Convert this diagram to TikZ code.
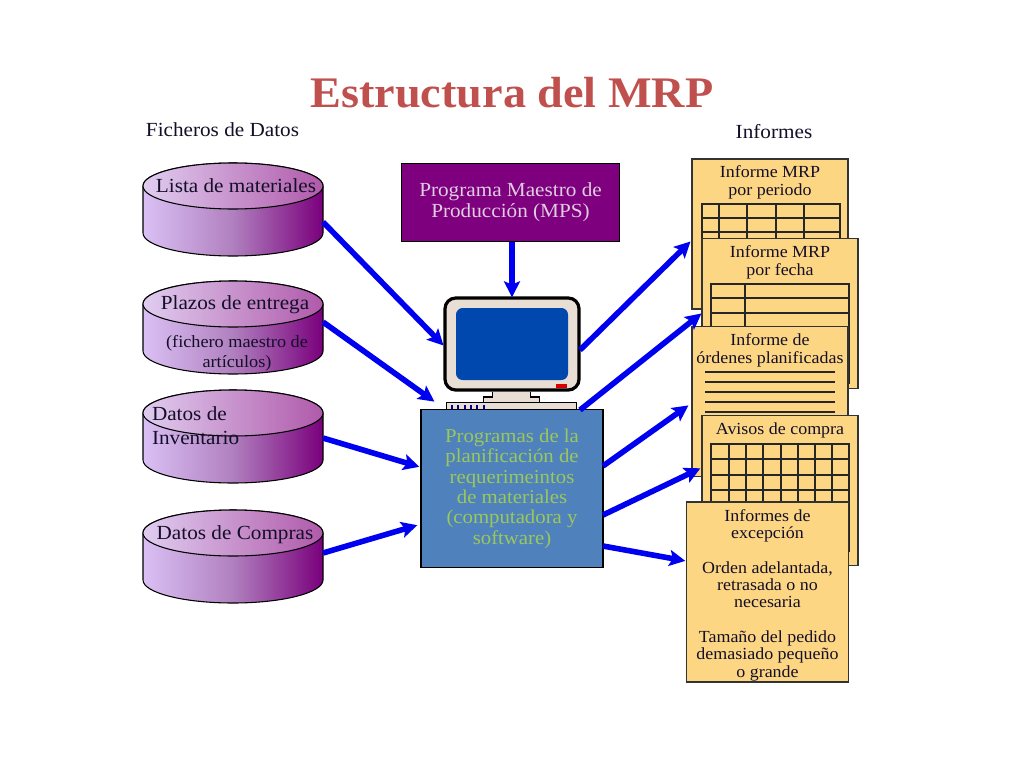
\documentclass[tikz,border=0pt]{standalone}
\usepackage{fontspec}
\setmainfont[FakeStretch=1.06]{Liberation Serif}
\usetikzlibrary{arrows.meta,calc}
\definecolor{repfill}{RGB}{253,214,131}
\definecolor{arrowblue}{RGB}{0,0,240}
\definecolor{cylL}{RGB}{218,192,245}
\definecolor{cylM}{RGB}{176,128,190}
\definecolor{cylR}{RGB}{122,0,124}
\definecolor{topL}{RGB}{224,205,240}
\definecolor{topR}{RGB}{176,90,170}
\definecolor{casecol}{RGB}{232,222,212}
\definecolor{titlered}{RGB}{192,80,77}
\definecolor{textdark}{RGB}{20,15,40}
\tikzset{
  x=0.75pt,y=-0.75pt,
  every node/.style={inner sep=0pt,outer sep=0pt,font=\fontsize{15pt}{15.4pt}\selectfont,text=textdark},
  flow/.style={draw=arrowblue,line width=4.2pt,-{Stealth[length=12pt,width=12pt,inset=2.5pt]},shorten >=0.5pt},
  report/.style={draw=black!80,line width=0.9pt,fill=repfill},
  rtext/.style={align=center,font=\fontsize{12.7pt}{13.2pt}\selectfont},
  gridline/.style={draw=black!85,line width=0.9pt},
}
\newcommand{\cyl}[2]{%
  \shade[left color=cylL,right color=cylR,middle color=cylM,draw=black,line width=0.8pt]
    (143,#2) -- (143,#2+47) arc[start angle=180,end angle=360,x radius=90,y radius=-23] -- (323,#2) arc[start angle=0,end angle=180,x radius=90,y radius=-23] -- cycle;
  \shade[left color=topL,right color=topR,draw=black,line width=0.8pt] (233,#2) ellipse[x radius=90,y radius=23];
  \node (#1) at (233,#2+23) [minimum width=135pt,minimum height=70pt] {};
}
\begin{document}
\begin{tikzpicture}
\useasboundingbox (0,0) rectangle (1024,768);
\fill[white] (0,0) rectangle (1024,768);

\node (title) at (512,93) {\fontsize{32.7pt}{36pt}\selectfont\bfseries\color{titlered}Estructura del MRP};
\node (fich) at (222.5,130) {Ficheros de Datos};
\node (inf) at (774,132) {Informes};

% cylinders
\cyl{cylA}{186}
\cyl{cylB}{304}
\cyl{cylC}{413}
\cyl{cylD}{533}
\node (lblA) at (236,186) {Lista de materiales};
\node (lblB) at (235,305) {Plazos de entrega};
\node (lblBb) at (237,353) [align=center,font=\fontsize{12.9pt}{15pt}\selectfont] {(fichero maestro de\\artículos)};
\node (lblC) [anchor=north west,align=left,font=\fontsize{15pt}{18pt}\selectfont] at (152,407) {Datos de\\Inventario};
\node (lblD) at (235,535) {Datos de Compras};

% computer
\node (mps) [draw=black,line width=0.8pt,fill={rgb,255:red,127;green,0;blue,127},minimum width=164pt,minimum height=59pt,text={rgb,255:red,222;green,205;blue,222},font=\fontsize{15pt}{16pt}\selectfont] at (510.5,202.5) {\raisebox{-1.6pt}{\parbox{160pt}{\centering Programa Maestro de\\Producción (MPS)}}};
\node (mon) [draw=black,line width=2.4pt,fill=casecol,rounded corners=8pt,minimum width=100.5pt,minimum height=69pt] at (512,344) {};
\node (screen) [fill={rgb,255:red,0;green,72;blue,174},rounded corners=5pt,minimum width=84pt,minimum height=54pt] at (512,344) {};
\node (led) [fill=red!85!black,minimum width=8pt,minimum height=3pt] at (561.5,386) {};
\node (base) [draw=black,line width=0.8pt,fill=casecol,minimum width=42.5pt,minimum height=4.5pt] at (511.5,400) {};
\node (neck) [fill=casecol,minimum width=28.5pt,minimum height=5pt] at (511.5,395) {};
\draw[black,line width=0.8pt] (neck.south west) -- (neck.north west) (neck.south east) -- (neck.north east);
\node (keyb) [draw=black,line width=0.8pt,fill=casecol,minimum width=97pt,minimum height=5.5pt] at (511.5,406.5) {};
\foreach \t in {452,458,465,471,477,484}{\draw[blue!60!black,line width=0.8pt] (\t,405) -- (\t,410);}
\node (prog) [draw=black,line width=0.8pt,fill={rgb,255:red,79;green,129;blue,189},minimum width=136.5pt,minimum height=119pt,text={rgb,255:red,155;green,200;blue,90},font=\fontsize{14.7pt}{15.3pt}\selectfont] at (512,488.5) {\raisebox{-1.8pt}{\parbox{135pt}{\centering Programas de la\\planificación de\\requerimeintos\\de materiales\\(computadora y\\software)}}};

% reports
\node (repA) [report,minimum width=117pt,minimum height=112.5pt] at (770,234) {};
\node (tA) [rtext] at (770,182.5) {Informe MRP\\por periodo};
\draw[gridline] (702,240) -- (702,204) -- (840,204) -- (840,240) (702,218) -- (840,218) (702,232) -- (840,232);
\foreach \t in {719,747,776,804}{\draw[gridline] (\t,204) -- (\t,240);}

\node (repB) [report,minimum width=117pt,minimum height=113pt] at (780,313.5) {};
\node (tB) [rtext] at (780,262.5) {Informe MRP\\por fecha};
\draw[gridline] (711,330) -- (711,284) -- (849,284) -- (849,383) -- (846,383) (711,298) -- (849,298) (711,313) -- (849,313) (745,284) -- (745,330);

\node (repC) [report,minimum width=117pt,minimum height=113pt] at (770,401.5) {};
\node (tC) [rtext] at (770,350.5) {Informe de\\órdenes planificadas};
\foreach \t in {372,382,392,402,412}{\draw[gridline] (705,\t) -- (835,\t);}

\node (repD) [report,minimum width=117pt,minimum height=113pt] at (780,490.5) {};
\node (tD) [rtext] at (780,430) {Avisos de compra};
\draw[gridline] (711,510) -- (711,444) -- (849,444) -- (849,552) (711,459) -- (849,459) (711,475) -- (849,475) (711,490) -- (849,490);
\foreach \t in {729,746,763,781,798,815,832}{\draw[gridline] (\t,444) -- (\t,510);}

\node (repE) [report,minimum width=122pt,minimum height=135pt] at (767.5,592) {};
\node (tE) [rtext,font=\fontsize{12.7pt}{13pt}\selectfont] at (767.5,595) {Informes de\\excepción\\[13pt]Orden adelantada,\\retrasada o no\\necesaria\\[13pt]Tamaño del pedido\\demasiado pequeño\\o grande};

% connector ends
\coordinate (outA) at (323,222);
\coordinate (outB) at (323,322);
\coordinate (outC) at (323,438);
\coordinate (outD) at (323,553);
\coordinate (inA) at (444,346);
\coordinate (inB) at (435,402);
\coordinate (inC) at (420,467);
\coordinate (inD) at (418,525);
\coordinate (pA) at (580,350);
\coordinate (pB) at (580,410);
\coordinate (pC) at (603,466);
\coordinate (pD) at (603,515);
\coordinate (pE) at (603,546);
\coordinate (qA) at (691,241);
\coordinate (qB) at (702,313);
\coordinate (qC) at (689,405);
\coordinate (qD) at (701,468);
\coordinate (qE) at (686,561);

\draw[flow] (outA) -- (inA);
\draw[flow] (outB) -- (inB);
\draw[flow] (outC) -- (inC);
\draw[flow] (outD) -- (inD);
\draw[flow] (mps.south -| mon.north) -- (mon.north);
\draw[flow] (pA) -- (qA);
\draw[flow] (pB) -- (qB);
\draw[flow] (pC) -- (qC);
\draw[flow] (pD) -- (qD);
\draw[flow] (pE) -- (qE);
\end{tikzpicture}
\end{document}
